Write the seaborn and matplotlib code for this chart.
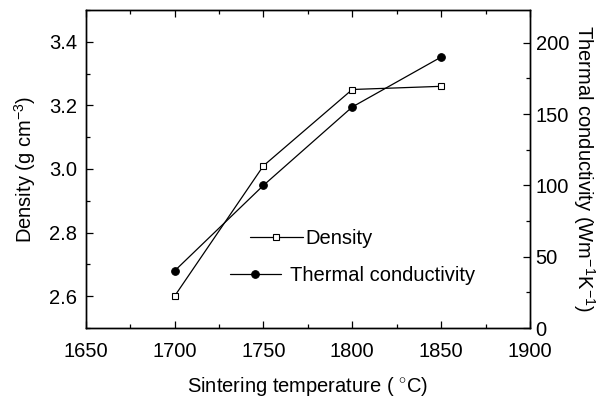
import pandas as pd
import numpy as np

import seaborn as sns
import matplotlib.pyplot as plt
from matplotlib.ticker import MultipleLocator

sns.set_style("ticks", rc={"text.color": "black", "axes.labelcolor": "black",
                           "xtick.color": "black", "ytick.color": "black",
                           "axes.edgecolor": "black"})
plt.rcParams["font.family"] = ["Liberation Sans", "DejaVu Sans"]
plt.rcParams["mathtext.fontset"] = "custom"
plt.rcParams["mathtext.rm"] = "Liberation Sans"
plt.rcParams["mathtext.it"] = "Liberation Sans:italic"

DPI = 100
FIGSIZE = (6.12, 4.0)
FS = 14.5

temperature = [1700, 1750, 1800, 1850]
density = [2.60, 3.01, 3.25, 3.26]
conductivity = [40, 100, 155, 190]

df = pd.DataFrame({"temp": temperature, "density": density, "k": conductivity})

fig, ax = plt.subplots(figsize=FIGSIZE, dpi=DPI)
fig.subplots_adjust(left=0.14, right=0.866, top=0.975, bottom=0.18)
ax2 = ax.twinx()

sns.lineplot(data=df, x="temp", y="density", ax=ax, color="black", lw=0.9,
             marker="s", markersize=4.5, markerfacecolor="white",
             markeredgecolor="black", markeredgewidth=0.8)
sns.lineplot(data=df, x="temp", y="k", ax=ax2, color="black", lw=0.9,
             marker="o", markersize=5.5, markerfacecolor="black",
             markeredgecolor="black")

ax.set_xlim(1650, 1900)
ax.set_ylim(2.5, 3.5)
ax2.set_ylim(0, 223)
ax.xaxis.set_major_locator(MultipleLocator(50))
ax.xaxis.set_minor_locator(MultipleLocator(25))
ax.set_yticks([2.6, 2.8, 3.0, 3.2, 3.4])
ax.yaxis.set_minor_locator(MultipleLocator(0.1))
ax2.yaxis.set_major_locator(MultipleLocator(50))
ax2.yaxis.set_minor_locator(MultipleLocator(25))

ax.tick_params(axis="x", which="both", direction="in", top=True, labelsize=FS, pad=10)
ax.tick_params(axis="y", which="both", direction="in", labelsize=FS, pad=6)
ax2.tick_params(axis="y", which="both", direction="in", labelsize=FS, pad=4)
for a in (ax, ax2):
    a.tick_params(which="major", length=5, width=0.9)
    a.tick_params(which="minor", length=3, width=0.9)
    for s in a.spines.values():
        s.set_linewidth(1.0)

ax.set_xlabel("Sintering temperature ( $^{\\circ}$C)", fontsize=FS, labelpad=10)
ax.set_ylabel("Density (g cm$^{-3}$)", fontsize=FS, labelpad=8)
ax2.set_ylabel("Thermal conductivity (Wm$^{-1}$K$^{-1}$)", fontsize=FS,
               rotation=270, labelpad=20)

h1 = ax.get_lines()[0]
h2 = ax2.get_lines()[0]
ax.legend([h1], ["Density"], loc="center left", bbox_to_anchor=(0.369, 0.28),
          frameon=False, fontsize=FS, handlelength=2.65, handletextpad=0.1,
          borderaxespad=0, borderpad=0)
ax2.legend([h2], ["Thermal conductivity"], loc="center left",
           bbox_to_anchor=(0.324, 0.164), frameon=False, fontsize=FS,
           handlelength=2.55, handletextpad=0.45, borderaxespad=0, borderpad=0)

fig.savefig("out.png", dpi=DPI)
